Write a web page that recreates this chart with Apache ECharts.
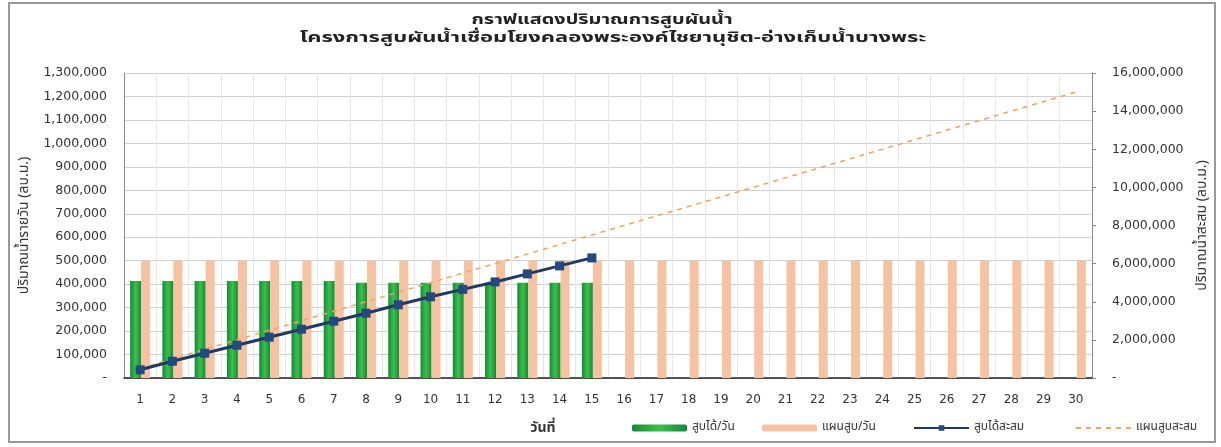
<!DOCTYPE html>
<html><head><meta charset="utf-8">
<script src="https://cdn.jsdelivr.net/npm/echarts@6/dist/echarts.min.js"></script>
<style>html,body{margin:0;padding:0;background:#fff}#c{width:1221px;height:447px}</style>
</head><body><div id="c"></div>
<script>
var days = ['1','2','3','4','5','6','7','8','9','10','11','12','13','14','15','16','17','18','19','20','21','22','23','24','25','26','27','28','29','30'];
var actualDaily = [413000,413000,413000,413000,413000,413000,413000,406000,406000,406000,406000,406000,406000,406000,406000];
var planDaily = [500000,500000,500000,500000,500000,500000,500000,500000,500000,500000,500000,500000,500000,500000,500000,500000,500000,500000,500000,500000,500000,500000,500000,500000,500000,500000,500000,500000,500000,500000];
var actualCum = [430000,880000,1300000,1720000,2140000,2560000,2980000,3400000,3840000,4260000,4650000,5040000,5460000,5880000,6300000];
var planCum = [500000,1000000,1500000,2000000,2500000,3000000,3500000,4000000,4500000,5000000,5500000,6000000,6500000,7000000,7500000,8000000,8500000,9000000,9500000,10000000,10500000,11000000,11500000,12000000,12500000,13000000,13500000,14000000,14500000,15000000];
var names = ['สูบได้/วัน','แผนสูบ/วัน','สูบได้สะสม','แผนสูบสะสม'];
var titleLines = ['กราฟแสดงปริมาณการสูบผันน้ำ','โครงการสูบผันน้ำเชื่อมโยงคลองพระองค์ไชยานุชิต-อ่างเก็บน้ำบางพระ'];
var xTitle = 'วันที่';

var FONT = '"Noto Sans Thai","Noto Sans","Tahoma",sans-serif';
var NUMFONT = '"DejaVu Sans","Noto Sans Thai",sans-serif';
function fmt(v){ return v === 0 ? '-' : v.toLocaleString('en-US'); }
var chart = echarts.init(document.getElementById('c'));
function lg(name, left, extra){
  var o = {data:[name], left:left, top:417, itemWidth:55, itemHeight:7,
    textStyle:{fontFamily:FONT, fontSize:12, color:'#333'}, itemGap:0};
  if (extra) for (var k in extra) o[k] = extra[k];
  return o;
}
chart.setOption({
  animation:false,
  textStyle:{fontFamily:FONT},
  graphic:[
    {type:'rect', shape:{x:9,y:3,width:1206,height:439}, style:{fill:'none', stroke:'#999', lineWidth:2}, silent:true},
    {type:'text', x:602, y:21, scaleX:1.42, silent:true,
     style:{text:titleLines[0], textAlign:'center', textVerticalAlign:'middle', fill:'#222', font:'bold 14px "Noto Sans Thai", sans-serif'}},
    {type:'text', x:613, y:39, scaleX:1.57, silent:true,
     style:{text:titleLines[1], textAlign:'center', textVerticalAlign:'middle', fill:'#222', font:'bold 14px "Noto Sans Thai", sans-serif'}},
    {type:'text', x:543, y:429, silent:true,
     style:{text:xTitle, textAlign:'center', textVerticalAlign:'middle', fill:'#333', font:'bold 14px "Noto Sans Thai", sans-serif'}}
  ],
  legend:[lg(names[0],627), lg(names[1],757), lg(names[2],908), lg(names[3],1070,{itemStyle:{opacity:0}})],
  grid:{left:124, right:129, top:73, bottom:69},
  xAxis:{type:'category', data:days,
    axisLine:{lineStyle:{color:'#222', width:1.5}},
    axisTick:{show:false},
    axisLabel:{fontFamily:NUMFONT, fontSize:12, color:'#333', margin:16},
    splitLine:{show:true, lineStyle:{color:'#ece4e4', width:1}}},
  yAxis:[
    {type:'value', min:0, max:1300000, interval:100000, position:'left',
     name:'ปริมาณน้ำรายวัน (ลบ.ม.)', nameLocation:'middle', nameRotate:90, nameGap:83,
     nameTextStyle:{fontFamily:FONT, fontSize:14, color:'#333'},
     axisLine:{show:true, lineStyle:{color:'#888'}},
     axisTick:{show:false},
     axisLabel:{formatter:fmt, fontFamily:NUMFONT, fontSize:12.5, color:'#333', margin:17},
     splitLine:{show:true, lineStyle:{color:'#d0d0d0', width:1}}},
    {type:'value', min:0, max:16000000, interval:2000000, position:'right',
     name:'ปริมาณน้ำสะสม (ลบ.ม.)', nameLocation:'middle', nameRotate:90, nameGap:104,
     nameTextStyle:{fontFamily:FONT, fontSize:14, color:'#333'},
     axisLine:{show:true, lineStyle:{color:'#888'}},
     axisTick:{show:true, length:4, lineStyle:{color:'#888'}},
     axisLabel:{formatter:fmt, fontFamily:NUMFONT, fontSize:12.5, color:'#333', margin:20},
     splitLine:{show:false}}
  ],
  series:[
    {name:names[0], type:'bar', data:actualDaily, barWidth:11, barGap:'0%',
     itemStyle:{color:new echarts.graphic.LinearGradient(0,0,1,0,[{offset:0,color:'#15883a'},{offset:0.5,color:'#3cc04a'},{offset:1,color:'#15883a'}])}},
    {name:names[1], type:'bar', data:planDaily, barWidth:9,
     itemStyle:{color:'#f6c3a2'}},
    {name:names[2], type:'line', yAxisIndex:1, data:actualCum, symbol:'rect', symbolSize:9,
     lineStyle:{color:'#1f3864', width:3}, itemStyle:{color:'#24497c'}, z:5},
    {name:names[3], type:'line', yAxisIndex:1, data:planCum, symbol:'none',
     lineStyle:{color:'#e9a763', width:1.5, type:[5,5]}, itemStyle:{color:'#e9a763'}, z:4}
  ]
});
</script></body></html>
